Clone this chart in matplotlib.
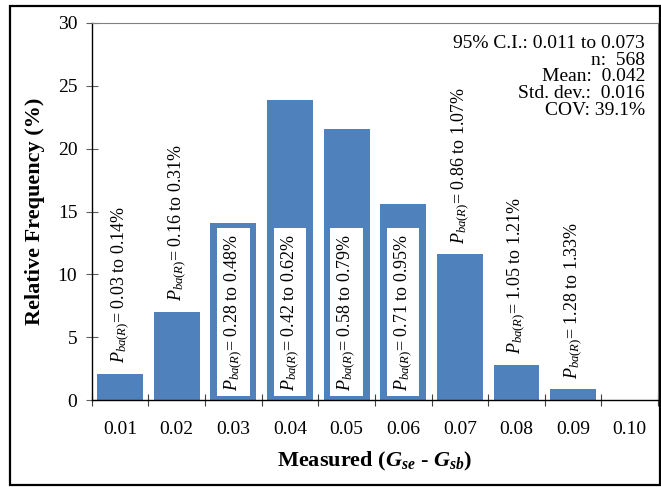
import matplotlib.pyplot as plt
from matplotlib.patches import Rectangle
import numpy as np

plt.rcParams['font.family'] = 'Liberation Serif'
plt.rcParams['mathtext.fontset'] = 'custom'
plt.rcParams['mathtext.rm'] = 'Liberation Serif'
plt.rcParams['mathtext.it'] = 'Liberation Serif:italic'
plt.rcParams['mathtext.bf'] = 'Liberation Serif:bold'
plt.rcParams['mathtext.bfit'] = 'Liberation Serif:bold:italic'

categories = ['0.01', '0.02', '0.03', '0.04', '0.05', '0.06', '0.07', '0.08', '0.09', '0.10']
freq = [2.1, 7.0, 14.1, 23.9, 21.6, 15.6, 11.6, 2.8, 0.85, 0.0]
p_lo = ['0.03', '0.16', '0.28', '0.42', '0.58', '0.71', '0.86', '1.05', '1.28']
p_hi = ['0.14', '0.31', '0.48', '0.62', '0.79', '0.95', '1.07', '1.21', '1.33']
inside = [False, False, True, True, True, True, False, False, False]
stats = ['95% C.I.: 0.011 to 0.073', 'n:  568', 'Mean:  0.042',
         'Std. dev.:  0.016', 'COV: 39.1%']

blue = '#4F81BD'

fig = plt.figure(figsize=(6.61, 4.87), dpi=100)
ax = fig.add_axes([0.139, 0.1786, 0.8565, 0.7742])

x = np.arange(len(categories))
ax.bar(x, freq, width=0.81, color=blue, zorder=2)

for i in range(len(p_lo)):
    label = r'$P_{ba(R)}$= ' + p_lo[i] + ' to ' + p_hi[i] + '%'
    if inside[i]:
        ax.text(x[i], 0.75, label, rotation=90, ha='center', va='bottom',
                fontsize=13, zorder=3,
                bbox=dict(boxstyle='square,pad=0.3', fc='white', ec='none'))
    else:
        ax.text(x[i], freq[i] + 0.85, label, rotation=90, ha='center', va='bottom',
                fontsize=13, zorder=3)

# stats block, one line at a time
for k, line in enumerate(stats):
    ax.text(0.977, 0.946 - k * 0.0442, line, transform=ax.transAxes,
            ha='right', va='center', fontsize=14)

ax.set_xlim(-0.5, len(categories) - 0.5)
ax.set_ylim(0, 30)
ax.set_yticks(range(0, 31, 5))
ax.set_xticks(np.arange(-0.5, len(categories)), labels=[])
ax.set_xticks(x, labels=categories, minor=True)
ax.tick_params(axis='x', which='major', direction='inout', length=9, width=0.8, color='#404040')
ax.tick_params(axis='x', which='minor', length=0, pad=15, labelsize=14)
ax.tick_params(axis='y', direction='inout', length=9, width=0.8, color='#606060',
               pad=6, labelsize=14)

for s in ['top', 'right']:
    ax.spines[s].set_color('#808080')
    ax.spines[s].set_linewidth(0.8)
for s in ['left', 'bottom']:
    ax.spines[s].set_color('black')
    ax.spines[s].set_linewidth(1.0)

ax.set_ylabel('Relative Frequency (%)', fontsize=16, fontweight='bold', labelpad=9)
ax.set_xlabel(r'Measured ($\mathbfit{G}_{\mathbfit{se}}$ - $\mathbfit{G}_{\mathbfit{sb}}$)',
              fontsize=16, fontweight='bold', labelpad=9)

fig.patches.append(Rectangle((0.0151, 0.004), 0.9834, 0.9837, transform=fig.transFigure,
                             fill=False, ec='black', lw=1.6))

fig.savefig('out.png', dpi=100)
